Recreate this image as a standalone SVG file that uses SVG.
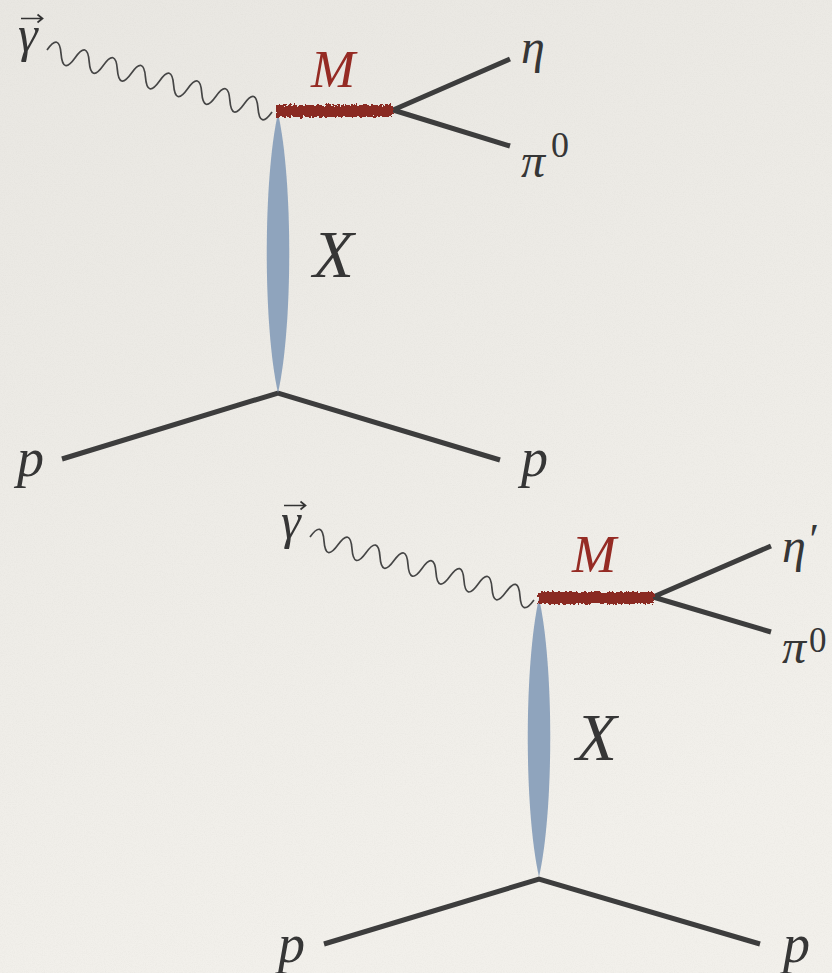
<svg xmlns="http://www.w3.org/2000/svg" width="832" height="973" viewBox="0 0 832 973">
  <defs>
    <linearGradient id="bg" x1="0" y1="0" x2="0.3" y2="1">
      <stop offset="0" stop-color="#E9E7E2"/>
      <stop offset="1" stop-color="#F2F0EB"/>
    </linearGradient>
    <filter id="paper" x="0" y="0" width="100%" height="100%">
      <feTurbulence type="fractalNoise" baseFrequency="0.9" numOctaves="3" seed="7" result="n"/>
      <feColorMatrix in="n" type="matrix" values="0 0 0 0 0.55  0 0 0 0 0.54  0 0 0 0 0.5  0 0 0 0.9 -0.35"/>
    </filter>
    <filter id="rough" x="-5%" y="-60%" width="110%" height="220%">
      <feTurbulence type="fractalNoise" baseFrequency="0.35" numOctaves="2" seed="3" result="t"/>
      <feDisplacementMap in="SourceGraphic" in2="t" scale="6" xChannelSelector="R" yChannelSelector="G"/>
    </filter>
    <style>
      .line { stroke: #3d3d3d; stroke-width: 5; fill: none; stroke-linecap: butt; }
      .photon { stroke: #454545; stroke-width: 1.7; fill: none; }
      .vec { stroke: #333333; stroke-width: 1.7; fill: none; }
      .lens { fill: #8FA4BD; }
      .bar { fill: #8A2A23; filter: url(#rough); }
      .lbl { font-family: "Liberation Serif", "DejaVu Serif", serif; font-style: italic; fill: #363636; }
      .red { fill: #952B24; }
      .sup { font-style: normal; }
    </style>
  </defs>

  <rect width="832" height="973" fill="url(#bg)"/>
  <rect width="832" height="973" filter="url(#paper)" opacity="0.25"/>

  <!-- connectors -->
  <g id="connectors">
    <path class="photon" transform="translate(47,50) rotate(15.4)" d="M0,0 q7.3,-20 14.59,0 t14.59,0 t14.59,0 t14.59,0 t14.59,0 t14.59,0 t14.59,0 t14.59,0 t14.59,0 t14.59,0 t14.59,0 t14.59,0 t14.59,0 t14.59,0 t14.59,0 t14.59,0"/>
    <path class="line" d="M510,59 L393,110 L510,146"/>
    <path class="line" d="M62,459 L278,393 L500,460"/>

    <path class="photon" transform="translate(310,537) rotate(15.7)" d="M0,0 q7.27,-20 14.54,0 t14.54,0 t14.54,0 t14.54,0 t14.54,0 t14.54,0 t14.54,0 t14.54,0 t14.54,0 t14.54,0 t14.54,0 t14.54,0 t14.54,0 t14.54,0 t14.54,0 t14.54,0"/>
    <path class="line" d="M771,546 L653,597 L771,632"/>
    <path class="line" d="M324,944 L539,879 L760,944"/>
  </g>

  <!-- diagram 1 -->
  <g id="exchange1">
    <path class="lens" d="M278,113 C293,180 293,326 278,393 C263,326 263,180 278,113 Z"/>
    <text class="lbl" x="313" y="277" font-size="67">X</text>
  </g>
  <g id="meson1">
    <rect class="bar" x="276" y="105" width="117" height="12"/>
    <text class="lbl red" x="311" y="87" font-size="53">M</text>
  </g>
  <g id="photon1">
    <text class="lbl" x="18" y="51" font-size="50">γ</text>
    <path class="vec" d="M21,18.5 H42 M37.5,14.5 L42.5,18.5 L37.5,22.5"/>
  </g>
  <g id="eta1">
    <text class="lbl" x="521" y="63" font-size="48">η</text>
  </g>
  <g id="pi1">
    <text class="lbl" x="521" y="177" font-size="48">π<tspan class="sup" font-size="36" dx="6" dy="-20">0</tspan></text>
  </g>
  <g id="p_in1">
    <text class="lbl" x="17" y="476" font-size="54">p</text>
  </g>
  <g id="p_out1">
    <text class="lbl" x="521" y="476" font-size="54">p</text>
  </g>

  <!-- diagram 2 -->
  <g id="exchange2">
    <path class="lens" d="M539,598 C554,665 554,810 539,877 C524,810 524,665 539,598 Z"/>
    <text class="lbl" x="576" y="760" font-size="67">X</text>
  </g>
  <g id="meson2">
    <rect class="bar" x="538" y="592" width="116" height="12"/>
    <text class="lbl red" x="572" y="572" font-size="53">M</text>
  </g>
  <g id="photon2">
    <text class="lbl" x="281" y="538" font-size="50">γ</text>
    <path class="vec" d="M284,505.5 H305 M300.5,501.5 L305.5,505.5 L300.5,509.5"/>
  </g>
  <g id="eta2">
    <text class="lbl" x="782" y="562" font-size="48">η<tspan font-size="44" dx="1" dy="-8">′</tspan></text>
  </g>
  <g id="pi2">
    <text class="lbl" x="782" y="663" font-size="48">π<tspan class="sup" font-size="35" dx="3" dy="-11">0</tspan></text>
  </g>
  <g id="p_in2">
    <text class="lbl" x="278" y="962" font-size="54">p</text>
  </g>
  <g id="p_out2">
    <text class="lbl" x="783" y="962" font-size="54">p</text>
  </g>
</svg>
